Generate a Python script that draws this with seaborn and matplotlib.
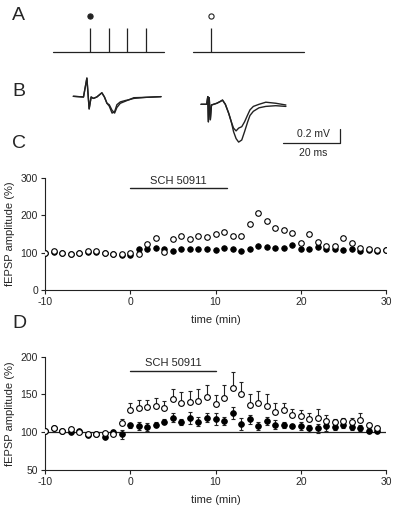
import matplotlib
matplotlib.use("Agg")
import matplotlib.pyplot as plt
import numpy as np
import seaborn as sns

sns.set_style("ticks")
plt.rcParams['font.family'] = ['Liberation Sans', 'DejaVu Sans']
plt.rcParams['axes.unicode_minus'] = False

# ---- data ----
# A: stimulus protocol (ms within a 60 ms sweep)
sweep_len = 60
train_stims = [20, 30, 40, 50]
single_stims = [10]

# B: example fEPSP traces (ms, mV relative to baseline)
tr1_t = [0, 3.6, 4.8, 5.6, 6.3, 7.1, 8.3, 10.1, 11.0, 11.9, 12.7, 13.7, 14.6, 15.4, 16.6, 18.4, 19.6, 21.4, 25.6, 31]
tr1a_v = [0, -0.01, 0.26, -0.18, -0.01, -0.03, -0.01, 0.05, -0.01, -0.10, -0.14, -0.24, -0.22, -0.12, -0.08, -0.06, -0.05, -0.02, -0.015, -0.005]
tr1b_v = [0, -0.01, 0.26, -0.18, -0.01, -0.03, -0.01, 0.05, -0.01, -0.10, -0.12, -0.20, -0.24, -0.16, -0.10, -0.07, -0.05, -0.03, -0.015, -0.005]
tr2_t = [0, 2.0, 2.4, 2.6, 2.9, 3.3, 3.7, 5.6, 6.8, 7.6, 8.6, 9.8, 10.7, 11.5, 12.4, 13.3, 14.4, 15.4, 16.5, 17.3, 18.5, 20.5, 22.9, 26.4, 30]
tr2a_v = [0, 0, 0.11, -0.25, 0.095, -0.22, -0.01, 0.015, 0.04, 0.06, 0, -0.13, -0.25, -0.34, -0.38, -0.34, -0.32, -0.25, -0.15, -0.08, -0.03, 0, 0.03, 0.015, -0.01]
tr2b_v = [0, 0, 0.11, -0.25, 0.095, -0.22, -0.01, 0.015, 0.04, 0.06, 0, -0.13, -0.25, -0.39, -0.49, -0.54, -0.51, -0.39, -0.25, -0.16, -0.10, -0.05, -0.03, -0.02, -0.03]

# C: single experiment
time_c = list(range(-10, 31))
open_c = [100, 104, 100, 97, 100, 105, 104, 98, 97, 97, 100, 96, 123, 138, 101, 136, 144, 136, 144, 141,
          150, 156, 145, 145, 178, 207, 184, 167, 162, 152, 125, 150, 128, 118, 118, 138, 127, 112, 111, 108, 106]
filled_c = [100, 102, 98, 96, 100, 103, 102, 98, 97, 95, 94, 109, 109, 113, 109, 105, 110, 110, 110, 109,
            107, 112, 111, 105, 110, 119, 116, 113, 113, 120, 111, 110, 116, 109, 109, 107, 110, 104, 107, 104, 108]

# D: mean +/- SEM
time_d = list(range(-10, 30))
open_d = [101, 105, 101, 104, 100, 97, 98, 99, 97, 112, 129, 132, 133, 135, 132, 144, 139, 140, 142, 146,
          138, 145, 158, 150, 136, 139, 135, 127, 129, 123, 122, 118, 119, 115, 113, 115, 113, 116, 109, 106]
open_d_err = [1, 2, 1, 1, 1, 1, 1, 1, 2, 5, 10, 11, 10, 10, 9, 13, 14, 14, 15, 16,
              11, 17, 22, 17, 15, 16, 15, 12, 10, 8, 8, 8, 12, 8, 5, 4, 6, 10, 3, 2]
filled_d = [101, 105, 101, 100, 101, 96, 98, 94, 100, 97, 109, 108, 107, 110, 114, 119, 114, 119, 114, 119,
            118, 115, 125, 111, 117, 108, 115, 110, 110, 108, 108, 105, 105, 108, 107, 109, 107, 106, 102, 102]
filled_d_err = [1, 1, 1, 1, 1, 2, 1, 2, 3, 6, 3, 5, 5, 3, 3, 6, 4, 8, 6, 6,
                8, 5, 8, 8, 6, 5, 5, 6, 4, 3, 5, 5, 6, 6, 4, 4, 4, 4, 3, 2]

W, H = 400, 512
ink = '#222222'


def px_rect(x0, y0, x1, y1):
    return [x0 / W, 1 - y1 / H, (x1 - x0) / W, (y1 - y0) / H]


fig = plt.figure(figsize=(4, 5.12), dpi=100)

# ---- A: stimulation protocol ----
ax_a = fig.add_axes(px_rect(40, 5, 340, 60))
ms_px = 1.85
ax_a.set_xlim(0, 300 / ms_px)
ax_a.set_ylim(-8 / 24, 47 / 24)
ax_a.axis('off')
for start, stims, face in [(7.2, train_stims, ink), (82.7, single_stims, 'white')]:
    ax_a.plot([start, start + sweep_len], [0, 0], color=ink, lw=0.9)
    ax_a.vlines([start + s for s in stims], 0, 1, color=ink, lw=0.9)
    sns.scatterplot(x=[start + stims[0]], y=[1.5], ax=ax_a, s=14, color=face,
                    edgecolor=ink, linewidth=0.8, legend=False)

# ---- B: traces ----
ax_b = fig.add_axes(px_rect(60, 70, 360, 160))
tms = 2.83
mvp = 70
ax_b.set_xlim(0, 300 / tms)
ax_b.set_ylim(-90 / mvp, 0)
ax_b.axis('off')
off1 = ((73.3 - 60) / tms, -(96.3 - 70) / mvp)
off2 = ((201 - 60) / tms, -(104.3 - 70) / mvp)
for t, v, off in [(tr1_t, tr1a_v, off1), (tr1_t, tr1b_v, off1), (tr2_t, tr2a_v, off2), (tr2_t, tr2b_v, off2)]:
    sns.lineplot(x=np.array(t) + off[0], y=np.array(v) + off[1], ax=ax_b, sort=False,
                 estimator=None, color=ink, lw=1.0)
# scale bar
sb_x1 = (340 - 60) / tms
sb_y = -(143 - 70) / mvp
ax_b.plot([sb_x1 - 20, sb_x1, sb_x1], [sb_y, sb_y, sb_y + 0.2], color=ink, lw=0.9)
ax_b.text(sb_x1 - 9.5, sb_y + 0.125, '0.2 mV', ha='center', va='center', fontsize=7.5)
ax_b.text(sb_x1 - 9.5, sb_y - 0.14, '20 ms', ha='center', va='center', fontsize=7.5)

# ---- C ----
ax_c = fig.add_axes(px_rect(45, 178, 386, 290))
sns.scatterplot(x=time_c, y=filled_c, ax=ax_c, s=16, color='black', edgecolor='black',
                linewidth=0.6, legend=False, zorder=3)
sns.scatterplot(x=time_c, y=open_c, ax=ax_c, s=16, color='white', edgecolor='black',
                linewidth=0.8, legend=False, zorder=4)
ax_c.set_xlim(-10, 30)
ax_c.set_ylim(0, 300)
ax_c.set_yticks([0, 100, 200, 300])
ax_c.plot([0, 11.3], [272, 272], color=ink, lw=1.0, clip_on=False)
ax_c.text(5.6, 291, 'SCH 50911', ha='center', va='center', fontsize=8)

# ---- D ----
ax_d = fig.add_axes(px_rect(45, 356.7, 386, 470))
ax_d.axhline(100, color=ink, lw=0.9, zorder=1)
ax_d.errorbar(time_d, filled_d, yerr=filled_d_err, fmt='none', ecolor=ink, elinewidth=0.8,
              capsize=1.5, capthick=0.8, zorder=2)
ax_d.errorbar(time_d, open_d, yerr=[np.zeros(len(open_d_err)), open_d_err], fmt='none', ecolor=ink,
              elinewidth=0.8, capsize=1.5, capthick=0.8, zorder=2)
sns.scatterplot(x=time_d, y=filled_d, ax=ax_d, s=17, color='black', edgecolor='black',
                linewidth=0.6, legend=False, zorder=3)
sns.scatterplot(x=time_d, y=open_d, ax=ax_d, s=17, color='white', edgecolor='black',
                linewidth=0.8, legend=False, zorder=4)
ax_d.set_xlim(-10, 30)
ax_d.set_ylim(50, 200)
ax_d.set_yticks([50, 100, 150, 200])
ax_d.plot([0, 10], [181, 181], color=ink, lw=1.0)
ax_d.text(5, 191, 'SCH 50911', ha='center', va='center', fontsize=8)

for ax in (ax_c, ax_d):
    ax.set_xticks([-10, 0, 10, 20, 30])
    sns.despine(ax=ax)
    ax.spines['left'].set_linewidth(0.8)
    ax.spines['bottom'].set_linewidth(0.8)
    ax.spines['left'].set_color(ink)
    ax.spines['bottom'].set_color(ink)
    ax.tick_params(length=3, width=0.8, labelsize=7.5, pad=2, color=ink)
    ax.set_xlabel('time (min)', fontsize=8, labelpad=6)
    ax.set_ylabel('fEPSP amplitude (%)', fontsize=8, labelpad=4)

# panel letters
for letter, y in [('A', 16), ('B', 92), ('C', 143), ('D', 323)]:
    fig.text(12 / W, 1 - y / H, letter, fontsize=14, ha='left', va='center')

fig.savefig('out.png', dpi=100)
